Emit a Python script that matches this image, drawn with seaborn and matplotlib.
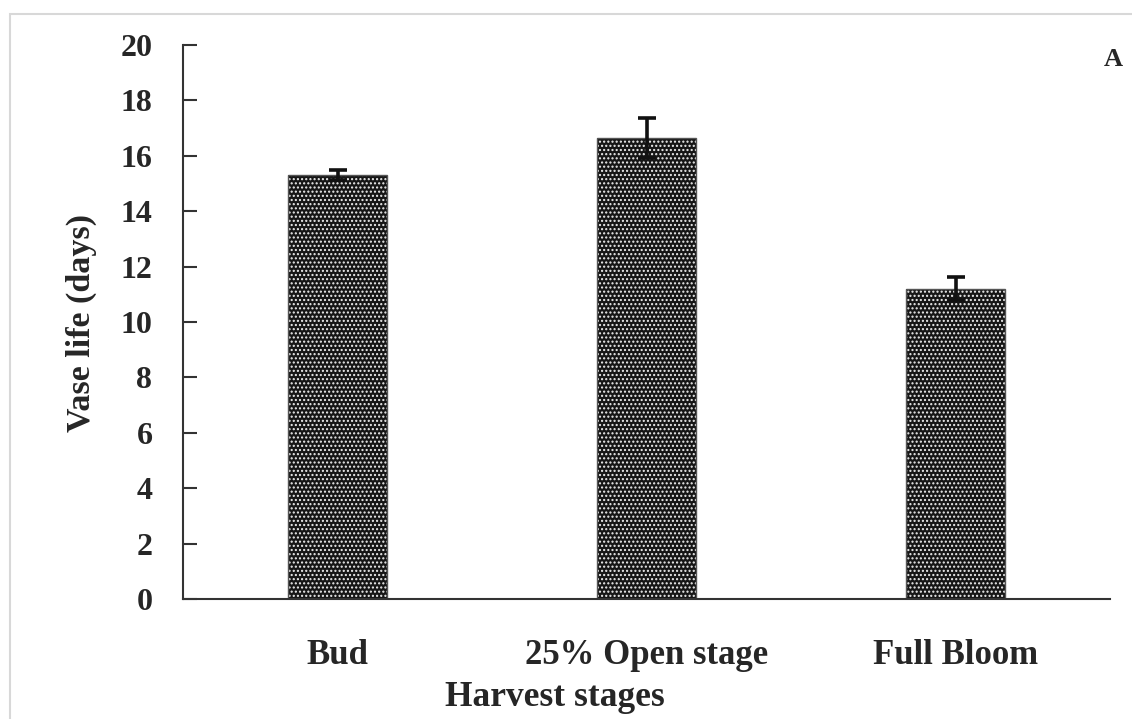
import matplotlib
matplotlib.use("Agg")
import matplotlib.pyplot as plt
import seaborn as sns
import pandas as pd
import numpy as np
from matplotlib.patches import Rectangle

categories = ["Bud", "25% Open stage", "Full Bloom"]
vase_life = [15.3, 16.65, 11.2]
errors = [0.18, 0.72, 0.42]
y_ticks = [0, 2, 4, 6, 8, 10, 12, 14, 16, 18, 20]

sns.set_theme(style="white")
plt.rcParams['font.family'] = ['Liberation Serif', 'DejaVu Serif']
plt.rcParams['hatch.linewidth'] = 1.0

fig = plt.figure(figsize=(11.32, 7.19), dpi=100)
ax = fig.add_axes([183/1132, 1 - 599/719, (1110-183)/1132, (599-45)/719])

df = pd.DataFrame({"stage": categories, "life": vase_life})
sns.barplot(data=df, x="stage", y="life", ax=ax, width=0.32,
            color="#161616", edgecolor="white", linewidth=0, errorbar=None,
            hatch="....")
for p in ax.patches:
    p.set_facecolor("#161616")
    p.set_edgecolor("#eeeeee")
    p.set_hatch("....")
    p.set_linewidth(0)
# outline
sns.barplot(data=df, x="stage", y="life", ax=ax, width=0.32, fill=False,
            edgecolor="#555555", linewidth=1.0, errorbar=None)

ax.errorbar(np.arange(len(categories)), vase_life, yerr=errors, fmt="none",
            ecolor="#111111", elinewidth=2.6, capsize=6.5, capthick=2.6, zorder=5)

ax.set_xlim(-0.5, 2.5)
ax.set_ylim(0, 20)
ax.set_yticks(y_ticks)
ax.set_yticklabels([str(t) for t in y_ticks], fontsize=23, fontweight="bold")
ax.set_xticks(np.arange(len(categories)))
ax.set_xticklabels(categories, fontsize=25, fontweight="bold")
ax.set_xticks([-0.5, 0.5, 1.5, 2.5], minor=True)
ax.tick_params(axis="x", which="major", length=0, pad=29)
ax.tick_params(axis="x", which="minor", direction="in", length=10, width=1.5, color="#333333")
ax.tick_params(axis="y", direction="in", length=10, width=1.5, color="#333333", pad=22, left=True)

for s in ["top", "right"]:
    ax.spines[s].set_visible(False)
for s in ["left", "bottom"]:
    ax.spines[s].set_color("#333333")
    ax.spines[s].set_linewidth(1.5)

ax.set_xlabel("")
ax.set_ylabel("")
fig.text(81/1132, 1 - 323/719, "Vase life (days)", rotation=90, ha="center", va="center",
         fontsize=24.5, fontweight="bold")
fig.text(555/1132, 1 - 698/719, "Harvest stages", ha="center", va="center",
         fontsize=25.5, fontweight="bold")
fig.text(1113/1132, 1 - 60/719, "A", ha="center", va="center",
         fontsize=19, fontweight="bold")

fig.patches.append(Rectangle((10/1132, -0.1), 1.2, 1 - 14/719 + 0.1,
                             transform=fig.transFigure, fill=False,
                             edgecolor="#d8d8d8", linewidth=1.5))

fig.savefig("out.png", dpi=100)
